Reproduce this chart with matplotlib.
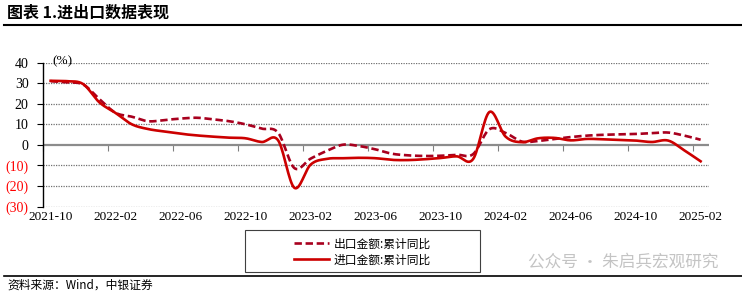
import numpy as np
import matplotlib
matplotlib.use("Agg")
import matplotlib.pyplot as plt
from matplotlib.lines import Line2D
from matplotlib.patches import Rectangle

W, H = 742, 294

# monthly, 2021-10 .. 2025-02 (41 months), cumulative y/y %
x_labels = ["2021-10", "2022-02", "2022-06", "2022-10", "2023-02", "2023-06",
            "2023-10", "2024-02", "2024-06", "2024-10", "2025-02"]
export_yoy = [31.0, 30.4, 29.4, 22.3, 15.6, 13.7, 11.5, 12.1, 12.8, 13.2,
              12.4, 11.5, 10.0, 7.9, 5.9, -11.3, -6.7, -2.9, 0.1, -0.6,
              -2.2, -4.3, -5.1, -5.4, -5.3, -4.8, -4.5, 7.6, 5.8, 1.6,
              1.9, 2.9, 3.8, 4.5, 4.9, 5.1, 5.3, 5.7, 6.0, 4.5, 2.5]
import_yoy = [31.2, 31.0, 29.6, 20.7, 15.5, 10.0, 7.7, 6.5, 5.4, 4.6,
              4.0, 3.5, 3.2, 1.4, 2.2, -20.9, -9.6, -6.8, -6.5, -6.3,
              -6.5, -7.3, -7.4, -7.0, -6.4, -5.6, -6.9, 16.0, 4.0, 1.3,
              3.2, 3.4, 2.2, 2.9, 2.7, 2.4, 2.1, 1.4, 2.1, -2.7, -8.0]
y_ticks = [-30, -20, -10, 0, 10, 20, 30, 40]
y_labels = ["(30)", "(20)", "(10)", "0", "10", "20", "30", "40"]
legend_labels = ["出口金额:累计同比", "进口金额:累计同比"]


def smooth(y, n=16):
    # excel-like smoothed line (bezier through the points)
    y = np.asarray(y, float)
    x = np.arange(len(y), dtype=float)
    P = np.column_stack([x, y])
    Pp = np.vstack([P[0], P, P[-1]])
    out = []
    t = np.linspace(0, 1, n, endpoint=False)[:, None]
    for i in range(len(P) - 1):
        p0, p1, p2, p3 = Pp[i], Pp[i + 1], Pp[i + 2], Pp[i + 3]
        c1 = p1 + (p2 - p0) / 6
        c2 = p2 - (p3 - p1) / 6
        seg = ((1 - t) ** 3) * p1 + 3 * ((1 - t) ** 2) * t * c1 + 3 * (1 - t) * t ** 2 * c2 + t ** 3 * p2
        out.append(seg)
    out.append(P[-1:])
    out = np.vstack(out)
    return out[:, 0], out[:, 1]


def fx(px):
    return px / W


def fy(py):
    return 1 - py / H


serif = "Liberation Serif"
cjk = ["Noto Sans CJK SC", "DejaVu Sans"]

fig = plt.figure(figsize=(W / 100, H / 100), dpi=100)
ax = fig.add_axes([fx(42.5), fy(206.5), (708.75 - 42.5) / W, (206.5 - 62.7) / H])

n = len(import_yoy)
ax.set_xlim(-0.5, n - 0.5)
ax.set_ylim(-30, 40)

# grid
for v in y_ticks:
    if v != 0:
        ax.axhline(v, color="#707070", lw=0.9, ls=(0, (1, 1)), zorder=1)
ax.axhline(0, color="#8c8c8c", lw=1.6, zorder=1.5)

xs, ys = smooth(export_yoy)
ax.plot(xs, ys, color="#A8001E", lw=1.9, dashes=(2.8, 1.4), zorder=3)
xs, ys = smooth(import_yoy)
ax.plot(xs, ys, color="#CC0000", lw=1.9, zorder=4)

for s in ["top", "right", "bottom"]:
    ax.spines[s].set_visible(False)
ax.spines["left"].set_color("black")
ax.spines["left"].set_linewidth(1.0)

ax.set_yticks(y_ticks)
ax.set_yticklabels(y_labels, fontfamily=serif, fontsize=10)
for lab, v in zip(ax.get_yticklabels(), y_ticks):
    lab.set_color("#FF0000" if v < 0 else "black")
ax.tick_params(axis="y", direction="out", length=4, width=0.8, pad=6)

ax.set_xticks(np.arange(0, n, 4))
ax.set_xticklabels(x_labels, fontfamily=serif, fontsize=9.5)
ax.tick_params(axis="x", length=0, pad=3)

# tick marks on the zero line
sec = ax.secondary_xaxis(30 / 70)
sec.set_xticks(np.arange(-0.5, n - 1, 4))
sec.set_xticklabels([])
sec.tick_params(direction="out", length=4, width=0.8, color="#808080")
sec.spines["bottom"].set_visible(False)
sec.spines["top"].set_visible(False)

fig.text(fx(52), fy(61), "(%)", fontfamily=serif, fontsize=9.5, va="center")

# header / footer
fig.text(fx(7), fy(13), "图表 1.进出口数据表现", family=cjk, fontsize=11.5,
         fontweight="bold", va="center")
fig.add_artist(Line2D([fx(4), 1], [fy(24.5), fy(24.5)], color="black", lw=1.5))
fig.add_artist(Line2D([fx(4), 1], [fy(275.5), fy(275.5)], color="black", lw=1.2))
fig.text(fx(7), fy(285), "资料来源：Wind，中银证券", family=cjk, fontsize=8.5,
         style="italic", va="center")

# legend
fig.add_artist(Rectangle((fx(245), fy(272)), fx(480) - fx(245), fy(230) - fy(272),
                         transform=fig.transFigure, fill=False, ec="#404040", lw=0.8))
handles = [Line2D([], [], color="#A8001E", lw=1.9, dashes=(2.8, 1.4)),
           Line2D([], [], color="#CC0000", lw=1.9)]
leg = fig.legend(handles, legend_labels, loc="center",
                 bbox_to_anchor=(fx(362.5), fy(252)), frameon=False,
                 prop={"family": cjk, "size": 8.5}, handlelength=2.9,
                 handletextpad=0.4, labelspacing=0.25, borderpad=0)

fig.text(fx(718), fy(262), "公众号 · 朱启兵宏观研究", family=cjk, fontsize=12,
         color="#c4c4c4", ha="right", va="center")

fig.savefig("out.png", dpi=100)
